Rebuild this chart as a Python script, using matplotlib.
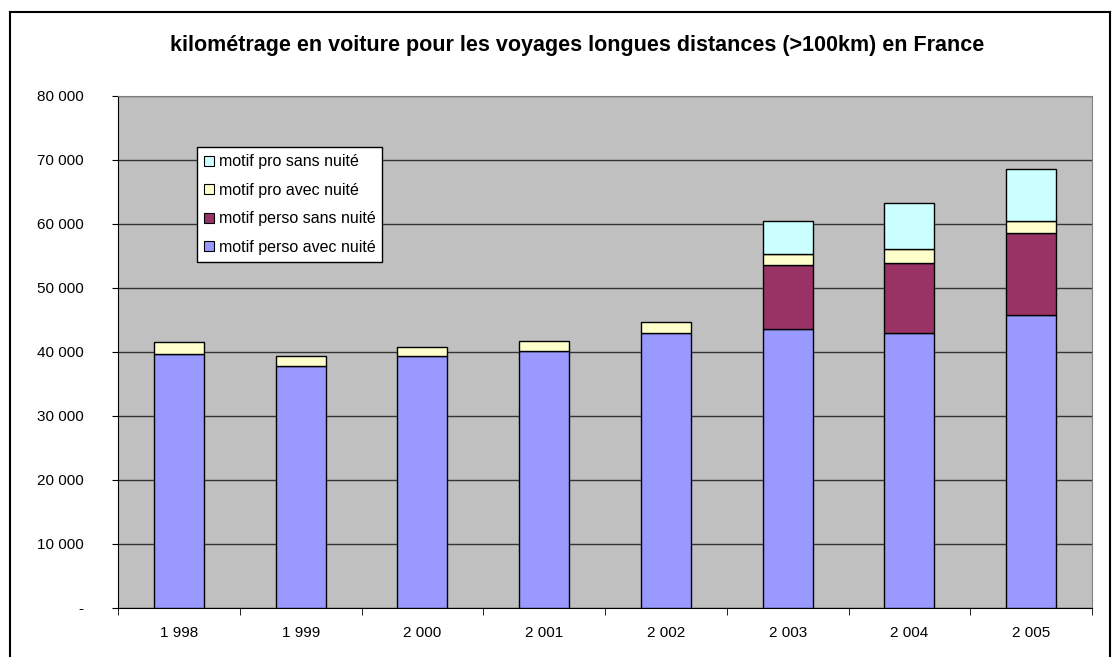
import numpy as np
import matplotlib.pyplot as plt
from matplotlib.lines import Line2D

plt.rcParams["font.family"] = ["Liberation Sans", "DejaVu Sans"]

years = ["1 998", "1 999", "2 000", "2 001", "2 002", "2 003", "2 004", "2 005"]
perso_avec = [39600, 37800, 39400, 40200, 42900, 43600, 43000, 45800]
perso_sans = [0, 0, 0, 0, 0, 9900, 10900, 12800]
pro_avec = [1900, 1600, 1300, 1500, 1800, 1800, 2200, 1800]
pro_sans = [0, 0, 0, 0, 0, 5100, 7100, 8100]

series = [
    ("motif perso avec nuité", perso_avec, "#9999FF"),
    ("motif perso sans nuité", perso_sans, "#993366"),
    ("motif pro avec nuité", pro_avec, "#FFFFCC"),
    ("motif pro sans nuité", pro_sans, "#CCFFFF"),
]

fig = plt.figure(figsize=(11.2, 6.57), dpi=100)
ax = fig.add_axes([0.1054, 0.075, 0.8696, 0.779])
ax.set_facecolor("#C0C0C0")

x = np.arange(len(years))
bottom = np.zeros(len(years))
handles = []
for label, vals, color in series:
    vals = np.array(vals, dtype=float)
    mask = vals > 0
    ax.bar(x[mask], vals[mask], bottom=bottom[mask], width=0.41, color=color,
           edgecolor="black", linewidth=1.0, zorder=3)
    bottom += vals
    handles.append(Line2D([], [], marker="s", linestyle="none", markersize=7,
                          markerfacecolor=color, markeredgecolor="black",
                          markeredgewidth=0.8, label=label))

ax.set_xlim(-0.5, len(years) - 0.5)
ax.set_ylim(0, 80000)
ax.set_yticks(np.arange(0, 80001, 10000))
ax.set_yticklabels(["-"] + [f"{v:,}".replace(",", " ") for v in range(10000, 80001, 10000)])
ax.yaxis.grid(True, color="#333333", linewidth=1.0, zorder=0)
ax.set_axisbelow(True)

ax.set_xticks(x)
ax.set_xticklabels(years)
ax.set_xticks(np.arange(-0.5, len(years)), minor=True)
ax.tick_params(axis="x", which="major", length=0, pad=13, labelsize=11)
ax.tick_params(axis="x", which="minor", length=5, color="black")
ax.tick_params(axis="y", length=4, pad=21, labelsize=11, color="black")

for side in ["top", "right"]:
    ax.spines[side].set_color("#808080")
for side in ["left", "bottom"]:
    ax.spines[side].set_color("black")

leg = ax.legend(handles=handles[::-1], loc="upper left",
                bbox_to_anchor=(0.081, 0.9), fontsize=11.5, frameon=True,
                fancybox=False, edgecolor="black", framealpha=1,
                handlelength=0.6, handletextpad=0.3, labelspacing=0.85,
                borderpad=0.45, borderaxespad=0)
leg.get_frame().set_linewidth(1.0)

fig.text(0.515, 0.931, "kilométrage en voiture pour les voyages longues distances (>100km) en France",
         ha="center", va="center", fontsize=15.5, fontweight="bold")

# chart border
fig.add_artist(Line2D([10 / 1120, 10 / 1120], [0, 1 - 12 / 657], color="black", linewidth=1.5,
                      transform=fig.transFigure))
fig.add_artist(Line2D([10 / 1120, 1110 / 1120], [1 - 12 / 657, 1 - 12 / 657], color="black",
                      linewidth=1.5, transform=fig.transFigure))
fig.add_artist(Line2D([1110 / 1120, 1110 / 1120], [0, 1 - 12 / 657], color="black", linewidth=1.5,
                      transform=fig.transFigure))

fig.savefig("out.png", dpi=100)
